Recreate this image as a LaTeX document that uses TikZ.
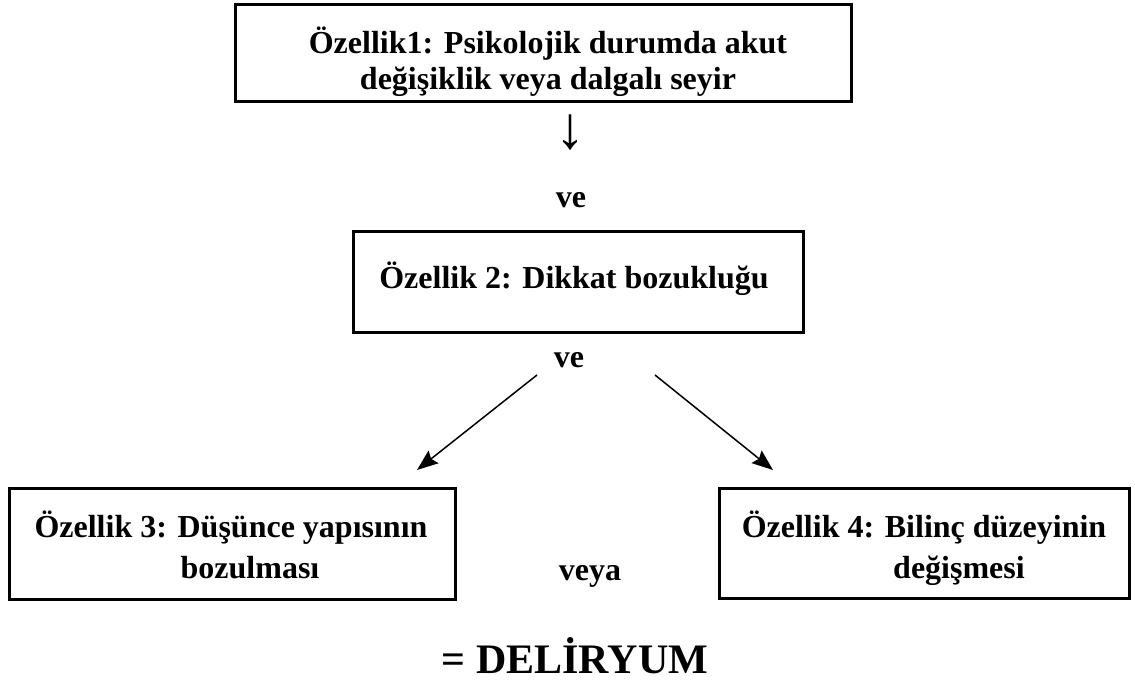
\documentclass[tikz,border=0pt]{standalone}
\usepackage{fontspec}
\setmainfont{Liberation Serif}
\usetikzlibrary{arrows.meta}
\begin{document}
\begin{tikzpicture}[x=1pt,y=-1pt,
  box/.style={draw,line width=2.6pt,inner sep=0pt,anchor=north west},
  txt/.style={font=\bfseries\fontsize{32}{38}\selectfont,inner sep=0pt,anchor=base},
  arr/.style={line width=1.5pt,-{Stealth[length=21pt,width=16pt,inset=3pt]}}]
\useasboundingbox (0,0) rectangle (1135,698);
% boxes
\node[box,minimum width=616pt,minimum height=97pt] (b1) at (234,3) {};
\node[box,minimum width=450pt,minimum height=101pt] (b2) at (352,230) {};
\node[box,minimum width=446pt,minimum height=111pt] (b3) at (8,487) {};
\node[box,minimum width=410pt,minimum height=110pt] (b4) at (718,487) {};
% box texts
\node[txt] (t1a) at (548,54) {Özellik1: Psikolojik durumda akut};
\node[txt] (t1b) at (548,90) {değişiklik veya dalgalı seyir};
\node[txt] (t2) at (574,288) {Özellik 2: Dikkat bozukluğu};
\node[txt] (t3a) at (231,537) {Özellik 3: Düşünce yapısının};
\node[txt] (t3b) at (250,578) {bozulması};
\node[txt] (t4a) at (924,537) {Özellik 4: Bilinç düzeyinin};
\node[txt] (t4b) at (959,578) {değişmesi};
% connectors and words
\node[inner sep=0pt,font=\fontsize{60}{60}\selectfont] (down) at (570,133) {↓};
\node[txt] (ve1) at (571,207) {ve};
\node[txt] (ve2) at (569,367) {ve};
\node[txt] (veya) at (590,580) {veya};
\node[txt,font=\bfseries\fontsize{42}{42}\selectfont] (del) at (575,673) {= DELİRYUM};
\coordinate (l0) at (537,375);
\coordinate (l1) at (417,470);
\coordinate (r0) at (655,375);
\coordinate (r1) at (773,470);
\draw[arr] (l0) -- (l1);
\draw[arr] (r0) -- (r1);
\end{tikzpicture}
\end{document}
